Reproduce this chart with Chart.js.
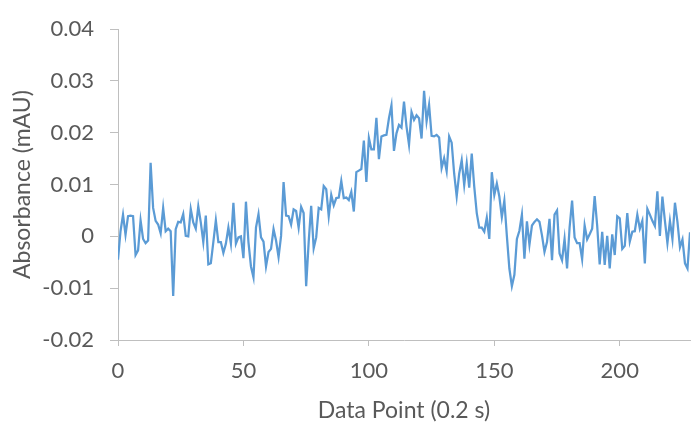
<!DOCTYPE html>
<html>
<head>
<meta charset="utf-8">
<script src="https://cdn.jsdelivr.net/npm/chart.js@4.4.1/dist/chart.umd.min.js"></script>
<style>
  html, body { margin: 0; padding: 0; background: #ffffff; }
  #wrap { width: 692px; height: 425px; }
</style>
</head>
<body>
<div id="wrap"><canvas id="myChart" width="692" height="425"></canvas></div>
<script>
// absorbance readings, one per data point (0.2 s apart), index 0..228
const absorbance = [
  -0.0045, 0.0010, 0.0042, 0.0003, 0.0039, 0.0040, 0.0039, -0.0036, -0.0027, 0.0031,
  -0.0005, -0.0013, -0.0008, 0.0142, 0.0055, 0.0030, 0.0023, 0.0006, 0.0055, 0.0010,
  0.0015, 0.0010, -0.0115, 0.0014, 0.0028, 0.0027, 0.0043, 0.0001, 0.0000, 0.0053,
  0.0027, 0.0015, 0.0058, 0.0027, -0.0011, 0.0040, -0.0054, -0.0052, -0.0011, 0.0031,
  -0.0011, -0.0011, -0.0032, -0.0014, 0.0017, -0.0014, 0.0065, -0.0014, -0.0002, 0.0000,
  -0.0042, 0.0067, -0.0011, -0.0058, -0.0079, 0.0017, 0.0043, -0.0002, -0.0010, -0.0058,
  -0.0030, -0.0024, 0.0014, -0.0008, -0.0040, 0.0001, 0.0105, 0.0040, 0.0039, 0.0023,
  0.0052, 0.0049, 0.0017, 0.0057, 0.0045, -0.0096, -0.0011, 0.0059, -0.0023, -0.0002,
  0.0055, 0.0052, 0.0097, 0.0091, 0.0039, 0.0080, 0.0060, 0.0074, 0.0075, 0.0107,
  0.0074, 0.0075, 0.0070, 0.0086, 0.0048, 0.0124, 0.0127, 0.0130, 0.0185, 0.0105,
  0.0190, 0.0168, 0.0168, 0.0229, 0.0149, 0.0193, 0.0195, 0.0196, 0.0228, 0.0253,
  0.0165, 0.0199, 0.0215, 0.0210, 0.0260, 0.0212, 0.0177, 0.0240, 0.0225, 0.0234,
  0.0228, 0.0189, 0.0281, 0.0222, 0.0254, 0.0194, 0.0193, 0.0196, 0.0191, 0.0132,
  0.0151, 0.0126, 0.0193, 0.0181, 0.0121, 0.0077, 0.0121, 0.0147, 0.0099, 0.0141,
  0.0094, 0.0160, 0.0096, 0.0045, 0.0017, 0.0017, 0.0009, 0.0036, -0.0005, 0.0124,
  0.0080, 0.0102, 0.0077, 0.0037, 0.0069, 0.0001, -0.0062, -0.0096, -0.0074, -0.0005,
  0.0011, 0.0042, -0.0043, 0.0029, -0.0016, 0.0021, 0.0028, 0.0033, 0.0028, 0.0002,
  -0.0030, -0.0011, 0.0034, -0.0046, 0.0042, 0.0050, -0.0033, -0.0046, -0.0005, -0.0062,
  0.0017, 0.0069, -0.0002, -0.0013, -0.0013, -0.0044, 0.0021, -0.0006, 0.0004, 0.0015,
  0.0078, 0.0021, -0.0054, 0.0009, -0.0055, 0.0001, -0.0062, 0.0004, -0.0036, 0.0039,
  0.0035, -0.0024, -0.0018, 0.0045, -0.0010, 0.0009, 0.0010, 0.0042, 0.0015, 0.0030,
  -0.0052, 0.0053, 0.0042, 0.0030, 0.0020, 0.0087, 0.0001, 0.0077, 0.0030, -0.0013,
  0.0030, -0.0005, 0.0065, 0.0028, -0.0021, -0.0006, -0.0052, -0.0062, 0.0008
];
const xTicks = [0, 50, 100, 150, 200];
const yTicks = [-0.02, -0.01, 0, 0.01, 0.02, 0.03, 0.04];
const xTitle = 'Data Point (0.2 s)';
const yTitle = 'Absorbance (mAU)';

const axisGrey = '#bfbfbf';
const textGrey = '#595959';
const fontFamily = 'Lato, "Open Sans", sans-serif';

const points = absorbance.map((v, i) => ({ x: i, y: v }));

const chartData = {
    datasets: [{
        label: yTitle,
        data: points,
        borderColor: '#5b9bd5',
        borderWidth: 2.25,
        pointRadius: 0,
        fill: false,
        tension: 0
    }]
};

const chartConfig = {
    type: 'line',
    data: chartData,
    options: {
        responsive: false,
        animation: false,
        layout: { padding: { left: 0, right: 2, top: 22, bottom: 0 } },
        plugins: { legend: { display: false }, tooltip: { enabled: false } },
        scales: {
            x: {
                type: 'linear',
                min: 0,
                max: absorbance.length - 1,
                afterFit: function(scale) { scale.height = 85; },
                afterBuildTicks: function(scale) { scale.ticks = xTicks.map(v => ({ value: v })); },
                grid: { drawOnChartArea: false, drawTicks: true, tickLength: 6, color: axisGrey },
                border: { display: true, color: axisGrey, width: 1 },
                ticks: { color: textGrey, font: { family: fontFamily, size: 22 }, padding: 12, maxRotation: 0 },
                title: { display: true, text: xTitle, color: textGrey, font: { family: fontFamily, size: 23 }, padding: { top: 0, bottom: 1 } }
            },
            y: {
                min: -0.02,
                max: 0.04,
                afterFit: function(scale) { scale.width = 118; },
                afterBuildTicks: function(scale) { scale.ticks = yTicks.map(v => ({ value: v })); },
                grid: { drawOnChartArea: false, drawTicks: true, tickLength: 8, color: axisGrey },
                border: { display: true, color: axisGrey, width: 1 },
                ticks: {
                    color: textGrey,
                    font: { family: fontFamily, size: 22 },
                    padding: 16,
                    callback: function(value) { return value === 0 ? '0' : value.toFixed(2); }
                },
                title: { display: true, text: yTitle, color: textGrey, font: { family: fontFamily, size: 23 }, padding: { top: 9, bottom: 0 } }
            }
        }
    }
};

const ctx = document.getElementById('myChart').getContext('2d');
const myChart = new Chart(ctx, chartConfig);
</script>
</body>
</html>
